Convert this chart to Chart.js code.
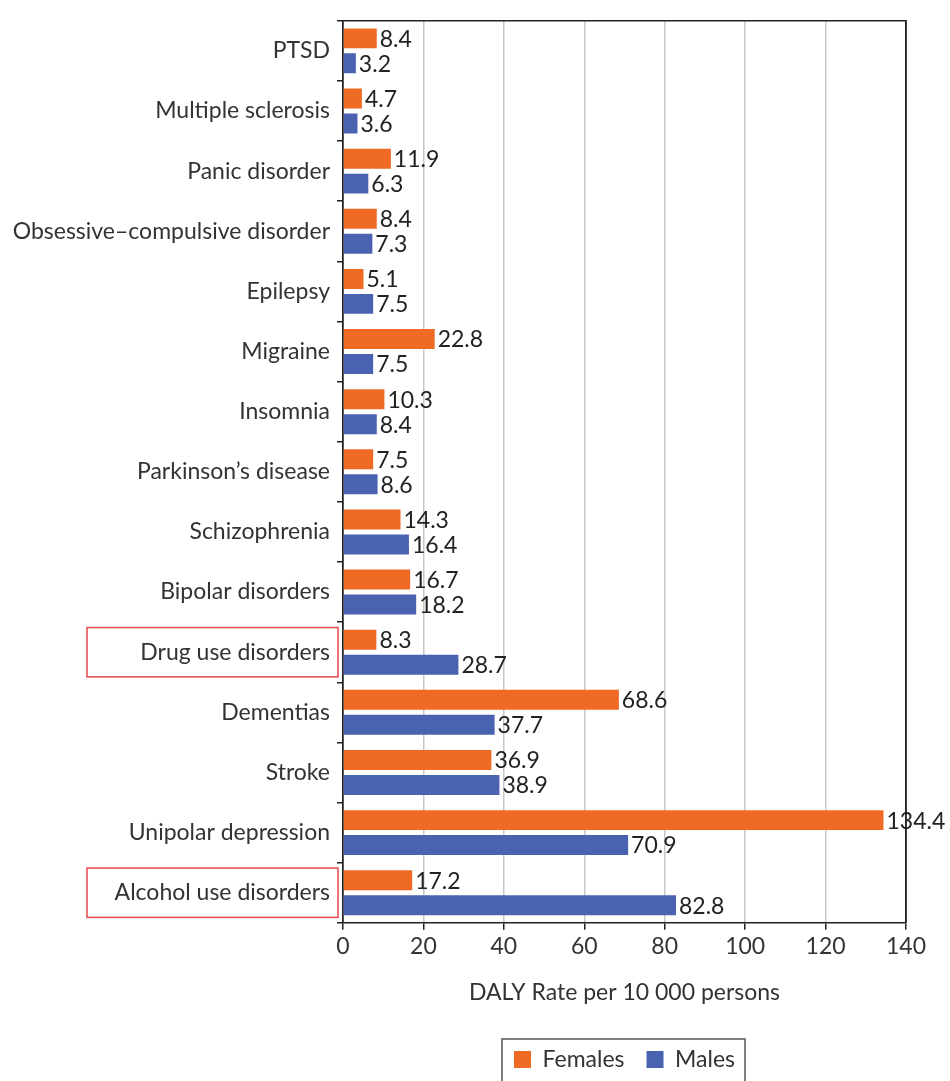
<!DOCTYPE html>
<html>
<head>
<meta charset="utf-8">
<script src="https://cdn.jsdelivr.net/npm/chart.js@4.4.1/dist/chart.umd.min.js"></script>
<style>
  html, body { margin: 0; padding: 0; background: #fff; }
  #wrap { width: 950px; height: 1081px; }
</style>
</head>
<body>
<div id="wrap"><canvas id="dalyChart" width="950" height="1081"></canvas></div>
<script>
const conditions = [
  'PTSD', 'Multiple sclerosis', 'Panic disorder', 'Obsessive–compulsive disorder',
  'Epilepsy', 'Migraine', 'Insomnia', 'Parkinson’s disease', 'Schizophrenia',
  'Bipolar disorders', 'Drug use disorders', 'Dementias', 'Stroke',
  'Unipolar depression', 'Alcohol use disorders'
];
const femaleRates = [8.4, 4.7, 11.9, 8.4, 5.1, 22.8, 10.3, 7.5, 14.3, 16.7, 8.3, 68.6, 36.9, 134.4, 17.2];
const maleRates = [3.2, 3.6, 6.3, 7.3, 7.5, 7.5, 8.4, 8.6, 16.4, 18.2, 28.7, 37.7, 38.9, 70.9, 82.8];
const highlighted = ['Drug use disorders', 'Alcohol use disorders'];

const FONT = 'Lato, "Open Sans", sans-serif';
const TEXT = '#333';

// value printed just past the end of each bar
const valueLabels = {
  id: 'valueLabels',
  afterDatasetsDraw(chart) {
    const ctx = chart.ctx;
    ctx.save();
    ctx.font = '23px ' + FONT;
    ctx.fillStyle = '#222';
    ctx.textAlign = 'left';
    ctx.textBaseline = 'middle';
    chart.data.datasets.forEach((ds, i) => {
      chart.getDatasetMeta(i).data.forEach((bar, j) => {
        ctx.fillText(ds.data[j].toFixed(1), bar.x + 3, bar.y + 1);
      });
    });
    ctx.restore();
  }
};

// frame around plot, red boxes round highlighted labels, border round legend
const frames = {
  id: 'frames',
  afterDraw(chart) {
    const ctx = chart.ctx;
    const a = chart.chartArea;
    ctx.save();
    ctx.strokeStyle = '#222';
    ctx.lineWidth = 1.5;
    ctx.beginPath();
    ctx.moveTo(a.left, a.top);
    ctx.lineTo(a.right, a.top);
    ctx.lineTo(a.right, a.bottom);
    ctx.stroke();

    const y = chart.scales.y;
    const step = (y.bottom - y.top) / conditions.length;
    ctx.strokeStyle = '#e8474e';
    ctx.lineWidth = 1.5;
    highlighted.forEach(name => {
      const cy = y.getPixelForValue(conditions.indexOf(name));
      const h = step * 0.82;
      ctx.strokeRect(y.right - 256, cy - h / 2, 251, h);
    });

    const hb = chart.legend.legendHitBoxes;
    if (hb && hb.length) {
      const first = hb[0], last = hb[hb.length - 1];
      ctx.strokeStyle = '#555';
      ctx.lineWidth = 1.5;
      ctx.strokeRect(first.left - 12, first.top - 9, last.left + last.width - first.left + 22, first.height + 40);
    }
    ctx.restore();
  }
};

new Chart(document.getElementById('dalyChart'), {
  type: 'bar',
  data: {
    labels: conditions,
    datasets: [
      { label: 'Females', data: femaleRates, backgroundColor: '#ef6a25' },
      { label: 'Males', data: maleRates, backgroundColor: '#4a63b1' }
    ]
  },
  options: {
    indexAxis: 'y',
    responsive: false,
    animation: false,
    categoryPercentage: 0.83,
    barPercentage: 0.8,
    layout: { padding: { top: 7, right: 44, left: 0, bottom: 0 } },
    plugins: {
      legend: {
        position: 'bottom',
        fullSize: false,
        labels: {
          boxWidth: 17, boxHeight: 17, padding: 22,
          color: TEXT, font: { family: FONT, size: 23 }
        }
      },
      tooltip: { enabled: false }
    },
    scales: {
      x: {
        min: 0, max: 140,
        ticks: { stepSize: 20, color: TEXT, padding: 3, font: { family: FONT, size: 23 } },
        grid: {
          color: c => (c.tick && (c.tick.value === 0 || c.tick.value === 140)) ? '#222' : '#c8c8c8',
          lineWidth: 1.5,
          tickLength: 7,
          tickColor: '#222'
        },
        border: { color: '#222', width: 1.5 },
        title: {
          display: true,
          text: 'DALY Rate per 10 000 persons',
          color: TEXT,
          font: { family: FONT, size: 23 },
          padding: { top: 15, bottom: 20 }
        }
      },
      y: {
        afterFit: s => { s.width = 343; },
        ticks: { color: TEXT, padding: 7, font: { family: FONT, size: 23 } },
        grid: { drawOnChartArea: false, offset: true, tickLength: 6, tickColor: '#222', lineWidth: 1.5 },
        border: { color: '#222', width: 1.5 }
      }
    }
  },
  plugins: [valueLabels, frames]
});
</script>
</body>
</html>
